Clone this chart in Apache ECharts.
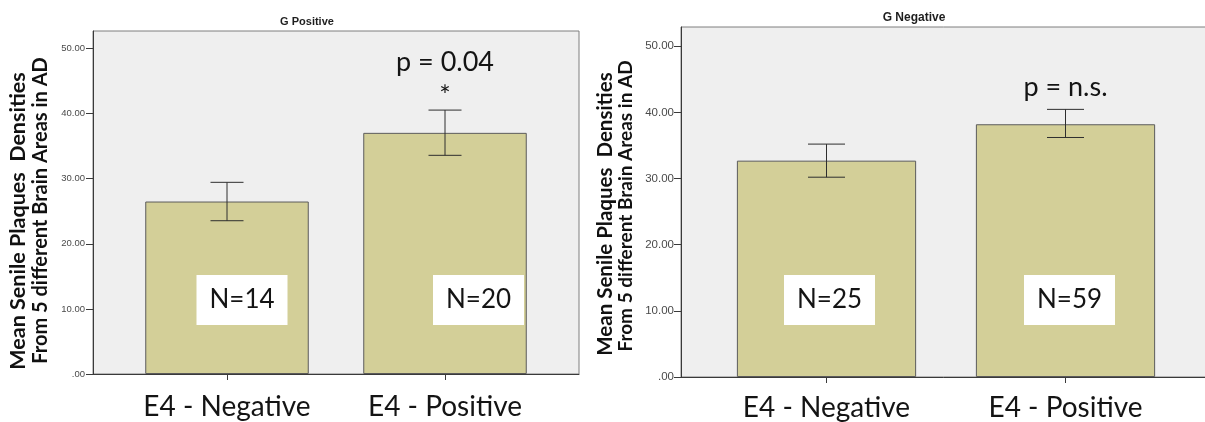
<!DOCTYPE html>
<html>
<head>
<meta charset="utf-8">
<script src="https://cdn.jsdelivr.net/npm/echarts@6/dist/echarts.min.js"></script>
<style>
  html, body { margin: 0; padding: 0; background: #ffffff; }
  #main { width: 1205px; height: 422px; }
</style>
</head>
<body>
<div id="main"></div>
<script>
// ---- data ----
const categories = ['E4 - Negative', 'E4 - Positive'];
const yTicks = [0, 10, 20, 30, 40, 50];
const yAxisLines = ['Mean Senile Plaques  Densities', 'From 5 different Brain Areas in AD'];

// G Positive panel
const gPosTitle = 'G Positive';
const gPosMeans = [26.5, 37.05];
const gPosLower = [23.55, 33.6];
const gPosUpper = [29.45, 40.55];
const gPosN = [14, 20];
const gPosNote = ['', 'p = 0.04'];
const gPosMark = ['', '*'];

// G Negative panel
const gNegTitle = 'G Negative';
const gNegMeans = [32.7, 38.2];
const gNegLower = [30.2, 36.2];
const gNegUpper = [35.2, 40.45];
const gNegN = [25, 59];
const gNegNote = ['', 'p = n.s.'];
const gNegMark = ['', ''];

// ---- layout / styling per panel ----
const panels = [
  {
    title: gPosTitle, means: gPosMeans, lower: gPosLower, upper: gPosUpper,
    n: gPosN, note: gPosNote, mark: gPosMark,
    box: { left: 93, top: 31, width: 486, height: 343 }, inset: 25, yMax: 52.7,
    titlePos: [307, 22], titleSize: 11, tickFont: 9.5, labelMargin: 8,
    nameX: [18, 41], nameY: [221, 210.5], nameSize: [21.5, 20],
    catMargin: 19, capWidth: 33, nDist: 49, nShift: [15, 33.5],
    noteGap: 48, markGap: 14
  },
  {
    title: gNegTitle, means: gNegMeans, lower: gNegLower, upper: gNegUpper,
    n: gNegN, note: gNegNote, mark: gNegMark,
    box: { left: 681, top: 27, width: 530, height: 350 }, inset: 26, yMax: 52.9,
    titlePos: [914, 17.5], titleSize: 12, tickFont: 11.5, labelMargin: 7,
    nameX: [605, 626], nameY: [214, 206], nameSize: [20.5, 19],
    catMargin: 17, capWidth: 37, nDist: 52, nShift: [3, 4],
    noteGap: 22, markGap: 14
  }
];

const INK = '#3a3a3a';
const grids = [], xAxes = [], yAxes = [], series = [], graphics = [];

panels.forEach((p, k) => {
  const boxIdx = 2 * k, barIdx = 2 * k + 1;

  // frame grid: grey plot area, border and the value axis
  grids.push({
    left: p.box.left, top: p.box.top, width: p.box.width, height: p.box.height,
    outerBoundsMode: 'none',
    show: true, backgroundColor: '#efefef', borderColor: '#7f7f7f', borderWidth: 1
  });
  // inner grid holding the two category bands
  grids.push({
    left: p.box.left + p.inset, top: p.box.top,
    width: p.box.width - 2 * p.inset, height: p.box.height,
    outerBoundsMode: 'none'
  });

  xAxes.push({
    gridIndex: boxIdx, type: 'value', min: 0, max: 1,
    axisLine: { show: true, onZero: false, lineStyle: { color: INK, width: 1 } },
    axisTick: { show: false }, axisLabel: { show: false }, splitLine: { show: false }
  });
  xAxes.push({
    gridIndex: barIdx, type: 'category', data: categories,
    axisLine: { show: false },
    axisTick: { show: true, alignWithLabel: true, length: 6, lineStyle: { color: INK } },
    axisLabel: { fontFamily: 'Lato', fontSize: 28, color: '#141414', margin: p.catMargin },
    splitLine: { show: false }
  });

  yAxes.push({
    gridIndex: boxIdx, type: 'value', min: 0, max: p.yMax,
    axisLine: { show: true, lineStyle: { color: INK, width: 1 } },
    axisTick: { show: true, length: 7, lineStyle: { color: INK }, customValues: yTicks },
    axisLabel: {
      customValues: yTicks, margin: p.labelMargin,
      fontFamily: 'Liberation Sans', fontSize: p.tickFont, color: '#4a4a4a',
      formatter: v => (v === 0 ? '.00' : v.toFixed(2))
    },
    splitLine: { show: false }
  });
  yAxes.push({ gridIndex: barIdx, type: 'value', min: 0, max: p.yMax, show: false });

  // bars with white "N=" boxes
  series.push({
    type: 'bar', xAxisIndex: barIdx, yAxisIndex: barIdx, barWidth: '75%',
    silent: true,
    itemStyle: { color: '#d3cf98', borderColor: '#5b5b5b', borderWidth: 1 },
    label: {
      show: true, position: 'insideBottom', distance: p.nDist,
      formatter: prm => 'N=' + p.n[prm.dataIndex],
      backgroundColor: '#ffffff', width: 91, height: 50, lineHeight: 50,
      fontFamily: 'Lato', fontSize: 26, color: '#141414'
    },
    data: p.means.map((v, i) => ({ value: v, label: { offset: [p.nShift[i], 0] } }))
  });

  // error bars
  series.push({
    type: 'custom', xAxisIndex: barIdx, yAxisIndex: barIdx, silent: true, z: 5,
    data: p.means.map((_, i) => [i, p.lower[i], p.upper[i]]),
    renderItem: (params, api) => {
      const lo = api.coord([api.value(0), api.value(1)]);
      const hi = api.coord([api.value(0), api.value(2)]);
      const h = p.capWidth / 2;
      const st = { stroke: '#2e2e2e', lineWidth: 1 };
      return {
        type: 'group', children: [
          { type: 'line', shape: { x1: hi[0], y1: hi[1], x2: lo[0], y2: lo[1] }, style: st },
          { type: 'line', shape: { x1: hi[0] - h, y1: hi[1], x2: hi[0] + h, y2: hi[1] }, style: st },
          { type: 'line', shape: { x1: lo[0] - h, y1: lo[1], x2: lo[0] + h, y2: lo[1] }, style: st }
        ]
      };
    }
  });

  // significance notes above the error bars
  series.push({
    type: 'custom', xAxisIndex: barIdx, yAxisIndex: barIdx, silent: true, z: 6,
    data: p.means.map((_, i) => [i, p.upper[i]]),
    renderItem: (params, api) => {
      const i = params.dataIndex;
      const top = api.coord([api.value(0), api.value(1)]);
      const font = { fontFamily: 'Lato', fontSize: 27, fill: '#141414', align: 'center', verticalAlign: 'middle' };
      const children = [];
      if (p.note[i]) children.push({ type: 'text', x: top[0], y: top[1] - p.noteGap, style: Object.assign({ text: p.note[i] }, font) });
      if (p.mark[i]) children.push({ type: 'text', x: top[0], y: top[1] - p.markGap, style: Object.assign({ text: p.mark[i] }, font) });
      return { type: 'group', children };
    }
  });

  // panel title
  graphics.push({
    type: 'text', x: p.titlePos[0], y: p.titlePos[1], silent: true,
    style: {
      text: p.title, fontFamily: 'Liberation Sans', fontWeight: 'bold', fontSize: p.titleSize,
      fill: '#1e1e1e', align: 'center', verticalAlign: 'middle'
    }
  });
  // two-line vertical axis title
  yAxisLines.forEach((line, j) => {
    graphics.push({
      type: 'text', x: p.nameX[j], y: p.nameY[j], rotation: Math.PI / 2, silent: true,
      style: {
        text: line, fontFamily: 'Lato', fontWeight: 'bold', fontSize: p.nameSize[j],
        fill: '#111111', align: 'center', verticalAlign: 'middle'
      }
    });
  });
});

const chart = echarts.init(document.getElementById('main'), null, { renderer: 'canvas' });
chart.setOption({
  animation: false,
  backgroundColor: '#ffffff',
  grid: grids,
  xAxis: xAxes,
  yAxis: yAxes,
  series: series,
  graphic: graphics
});
</script>
</body>
</html>
